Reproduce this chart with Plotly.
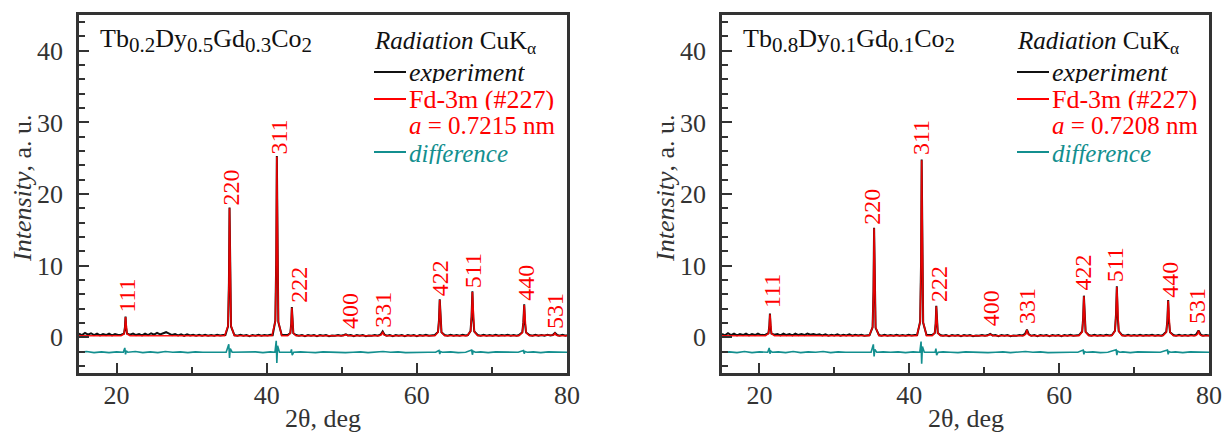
import plotly.graph_objects as go

W, H = 1224, 434

# ---------------- Left panel: Tb0.2Dy0.5Gd0.3Co2 ----------------
expL_x = [15.0, 15.4, 15.8, 16.2, 16.6, 17.0, 17.4, 17.8, 18.2, 18.6, 19.0, 19.4, 19.8, 20.2,
          20.6, 21.0, 21.12, 21.2, 21.28, 21.4, 21.8,
          22.2, 22.6, 23.0, 23.4, 23.8, 24.2, 24.6, 25.0, 25.4, 25.8, 26.2, 26.6, 27.0, 27.4, 27.8,
          28.2, 28.6, 29.0, 29.4, 29.8, 30.2, 30.6, 31.0, 31.4, 31.8, 32.2, 32.6, 33.0, 33.4, 33.8, 34.2,
          34.5, 34.85, 34.97, 35.05, 35.13, 35.25, 35.7,
          36.1, 36.5, 36.9, 37.3, 37.7, 38.1, 38.5, 38.9, 39.3, 39.7, 40.1, 40.5,
          40.8, 41.15, 41.27, 41.35, 41.43, 41.55, 42.0,
          42.4, 42.8, 43.15, 43.27, 43.35, 43.43, 43.55, 43.9,
          44.3, 44.7, 45.1, 45.5, 45.9, 46.3, 46.7, 47.1, 47.5, 47.9, 48.3, 48.7, 49.1, 49.5, 49.9,
          50.3, 50.55, 50.8, 51.2, 51.6, 52.0, 52.4, 52.8, 53.2, 53.6, 54.0, 54.4, 54.8,
          55.2, 55.45, 55.7, 56.0, 56.4, 56.8, 57.2, 57.6, 58.0, 58.4, 58.8, 59.2, 59.6, 60.0,
          60.4, 60.8, 61.2, 61.6, 62.0,
          62.4, 62.82, 62.95, 63.05, 63.15, 63.28, 63.7,
          64.1, 64.5, 64.9, 65.3, 65.7, 66.1, 66.5,
          66.8, 67.15, 67.29, 67.4, 67.51, 67.65, 68.1,
          68.5, 68.9, 69.3, 69.7, 70.1, 70.5, 70.9, 71.3, 71.7, 72.1, 72.5, 72.9, 73.3,
          73.6, 74.05, 74.19, 74.3, 74.41, 74.55, 75.0,
          75.4, 75.8, 76.2, 76.6, 77.0, 77.4, 77.8, 78.1, 78.4, 78.7, 79.0, 79.4, 79.8, 80.0]
expL_y = [0.5, 0.3, 0.6, 0.35, 0.55, 0.3, 0.5, 0.25, 0.45, 0.3, 0.5, 0.25, 0.45, 0.3,
          0.35, 0.5, 1.4, 2.9, 1.3, 0.5, 0.35,
          0.5, 0.3, 0.45, 0.25, 0.5, 0.3, 0.55, 0.35, 0.6, 0.4, 0.55, 0.7, 0.5, 0.3, 0.45,
          0.25, 0.4, 0.2, 0.4, 0.25, 0.35, 0.2, 0.35, 0.2, 0.35, 0.2, 0.3, 0.2, 0.35, 0.25, 0.3,
          0.3, 1.5, 7.6, 18.1, 7.3, 1.5, 0.3,
          0.2, 0.35, 0.2, 0.3, 0.15, 0.3, 0.2, 0.35, 0.2, 0.3, 0.25, 0.35,
          0.3, 2.3, 10.8, 25.3, 10.2, 2.1, 0.3,
          0.25, 0.3, 0.6, 1.9, 4.2, 1.7, 0.55, 0.3,
          0.2, 0.3, 0.15, 0.3, 0.2, 0.3, 0.15, 0.3, 0.2, 0.3, 0.15, 0.25, 0.2, 0.3, 0.2,
          0.3, 0.4, 0.25, 0.3, 0.15, 0.3, 0.2, 0.3, 0.15, 0.25, 0.2, 0.3, 0.2,
          0.4, 0.8, 0.35, 0.2, 0.3, 0.15, 0.3, 0.2, 0.3, 0.15, 0.3, 0.2, 0.3, 0.15,
          0.3, 0.2, 0.35, 0.2, 0.3,
          0.3, 0.75, 2.4, 5.3, 2.2, 0.7, 0.3,
          0.2, 0.35, 0.2, 0.3, 0.2, 0.35, 0.25,
          0.3, 0.85, 2.9, 6.4, 2.7, 0.8, 0.3,
          0.2, 0.35, 0.2, 0.3, 0.2, 0.35, 0.2, 0.3, 0.25, 0.35, 0.2, 0.3, 0.2,
          0.3, 0.7, 2.1, 4.6, 1.9, 0.65, 0.3,
          0.2, 0.35, 0.2, 0.3, 0.2, 0.35, 0.25, 0.3, 0.6, 0.3, 0.2, 0.35, 0.2, 0.3]

fitL_x = [15.0, 20.6, 21.0, 21.12, 21.2, 21.28, 21.4, 21.8,
          34.4, 34.85, 34.97, 35.05, 35.13, 35.25, 35.7,
          40.7, 41.15, 41.27, 41.35, 41.43, 41.55, 42.0,
          42.8, 43.15, 43.27, 43.35, 43.43, 43.55, 43.9,
          50.2, 50.55, 50.9,
          55.0, 55.3, 55.45, 55.6, 55.9,
          62.4, 62.82, 62.95, 63.05, 63.15, 63.28, 63.7,
          66.7, 67.15, 67.29, 67.4, 67.51, 67.65, 68.1,
          73.6, 74.05, 74.19, 74.3, 74.41, 74.55, 75.0,
          78.0, 78.25, 78.4, 78.55, 78.8, 80.0]
fitL_y = [0.2, 0.2, 0.45, 1.3, 2.8, 1.3, 0.45, 0.2,
          0.2, 1.6, 7.5, 18.0, 7.5, 1.6, 0.2,
          0.2, 2.2, 10.5, 25.2, 10.5, 2.2, 0.2,
          0.2, 0.55, 1.8, 4.1, 1.8, 0.55, 0.2,
          0.2, 0.35, 0.2,
          0.2, 0.35, 0.75, 0.35, 0.2,
          0.2, 0.7, 2.3, 5.2, 2.3, 0.7, 0.2,
          0.2, 0.8, 2.8, 6.3, 2.8, 0.8, 0.2,
          0.2, 0.65, 2.0, 4.5, 2.0, 0.65, 0.2,
          0.2, 0.3, 0.55, 0.3, 0.2, 0.2]

diffL_x = [15.0, 16.0, 17.0, 18.0, 19.0, 20.0, 20.9, 21.1, 21.2, 21.3, 21.5,
           22.5, 23.5, 24.5, 25.5, 26.5, 27.5, 28.5, 29.5, 30.5, 31.5, 32.5, 33.5,
           34.6, 34.95, 35.05, 35.15, 35.4, 36.5, 37.5, 38.5, 39.5, 40.5,
           41.1, 41.27, 41.35, 41.45, 41.7, 42.5, 43.2, 43.3, 43.4, 43.6,
           44.5, 45.5, 46.5, 47.5, 48.5, 49.5, 50.5, 51.5, 52.5, 53.5, 54.5, 55.5, 56.5,
           57.5, 58.5, 59.5, 60.5, 61.5, 62.5, 62.95, 63.05, 63.15, 63.4,
           64.5, 65.5, 66.5, 67.3, 67.4, 67.5, 67.8, 68.5, 69.5, 70.5, 71.5, 72.5, 73.5,
           74.2, 74.3, 74.4, 74.7, 75.5, 76.5, 77.5, 78.5, 79.5, 80.0]
diffL_y = [-2.1, -2.0, -2.15, -2.05, -2.15, -2.05, -2.1, -1.5, -2.4, -1.9, -2.1,
           -2.0, -2.15, -2.05, -2.15, -2.0, -2.1, -2.05, -2.15, -2.05, -2.1, -2.05, -2.1,
           -2.1, -1.0, -2.9, -1.6, -2.1, -2.05, -2.1, -2.05, -2.15, -2.05,
           -2.1, -0.5, -3.6, -1.2, -2.1, -2.05, -2.1, -1.7, -2.5, -2.1,
           -2.05, -2.1, -2.15, -2.05, -2.1, -2.05, -2.15, -2.1, -2.05, -2.15, -2.1, -2.0, -2.1,
           -2.05, -2.15, -2.1, -2.05, -2.1, -2.1, -1.85, -2.35, -2.0, -2.1,
           -2.05, -2.15, -2.1, -1.8, -2.45, -1.95, -2.1, -2.05, -2.15, -2.05, -2.1, -2.05, -2.1,
           -1.85, -2.3, -2.0, -2.1, -2.05, -2.15, -2.05, -2.1, -2.05, -2.1]

# ---------------- Right panel: Tb0.8Dy0.1Gd0.1Co2 ----------------
expR_x = [15.0, 15.4, 15.8, 16.2, 16.6, 17.0, 17.4, 17.8, 18.2, 18.6, 19.0, 19.4, 19.8, 20.2,
          20.8, 21.2, 21.32, 21.4, 21.48, 21.6, 22.0,
          22.4, 22.8, 23.2, 23.6, 24.0, 24.4, 24.8, 25.2, 25.6, 26.0, 26.4, 26.8, 27.2, 27.6, 28.0,
          28.4, 28.8, 29.2, 29.6, 30.0, 30.4, 30.8, 31.2, 31.6, 32.0, 32.4, 32.8, 33.2, 33.6, 34.0, 34.4,
          34.7, 35.1, 35.22, 35.3, 35.38, 35.5, 35.95,
          36.3, 36.7, 37.1, 37.5, 37.9, 38.3, 38.7, 39.1, 39.5, 39.9, 40.3, 40.7,
          41.05, 41.45, 41.57, 41.65, 41.73, 41.85, 42.3,
          42.7, 43.05, 43.4, 43.52, 43.6, 43.68, 43.8, 44.15,
          44.5, 44.9, 45.3, 45.7, 46.1, 46.5, 46.9, 47.3, 47.7, 48.1, 48.5, 48.9, 49.3, 49.7, 50.1,
          50.5, 50.8, 51.1, 51.5, 51.9, 52.3, 52.7, 53.1, 53.5, 53.9, 54.3, 54.7, 55.1,
          55.45, 55.7, 55.95, 56.3, 56.7, 57.1, 57.5, 57.9, 58.3, 58.7, 59.1, 59.5, 59.9, 60.3,
          60.7, 61.1, 61.5, 61.9, 62.3,
          62.65, 63.07, 63.2, 63.3, 63.4, 63.53, 63.95,
          64.3, 64.7, 65.1, 65.5, 65.9, 66.3, 66.7,
          67.05, 67.45, 67.59, 67.7, 67.81, 67.95, 68.4,
          68.8, 69.2, 69.6, 70.0, 70.4, 70.8, 71.2, 71.6, 72.0, 72.4, 72.8, 73.2, 73.6,
          73.85, 74.3, 74.44, 74.55, 74.66, 74.8, 75.25,
          75.6, 76.0, 76.4, 76.8, 77.2, 77.6, 78.0, 78.3, 78.6, 78.9, 79.2, 79.6, 80.0]
expR_y = [0.45, 0.25, 0.55, 0.3, 0.5, 0.25, 0.45, 0.3, 0.5, 0.25, 0.45, 0.3, 0.5, 0.3,
          0.35, 0.55, 1.6, 3.3, 1.5, 0.5, 0.35,
          0.45, 0.25, 0.5, 0.3, 0.45, 0.25, 0.5, 0.3, 0.45, 0.3, 0.5, 0.35, 0.45, 0.3, 0.4,
          0.25, 0.4, 0.2, 0.35, 0.25, 0.4, 0.2, 0.35, 0.25, 0.4, 0.2, 0.35, 0.25, 0.35, 0.2, 0.3,
          0.3, 1.4, 6.5, 15.3, 6.2, 1.3, 0.3,
          0.2, 0.35, 0.2, 0.3, 0.2, 0.35, 0.2, 0.3, 0.2, 0.35, 0.25, 0.3,
          0.3, 2.2, 10.5, 24.8, 10.0, 2.0, 0.3,
          0.25, 0.3, 0.6, 1.9, 4.4, 1.8, 0.6, 0.3,
          0.2, 0.3, 0.15, 0.3, 0.2, 0.3, 0.15, 0.3, 0.2, 0.3, 0.15, 0.25, 0.2, 0.3, 0.2,
          0.3, 0.45, 0.25, 0.3, 0.15, 0.3, 0.2, 0.3, 0.15, 0.25, 0.2, 0.3, 0.25,
          0.45, 1.05, 0.4, 0.2, 0.3, 0.15, 0.3, 0.2, 0.3, 0.15, 0.3, 0.2, 0.3, 0.15,
          0.3, 0.2, 0.35, 0.2, 0.3,
          0.3, 0.8, 2.6, 5.8, 2.4, 0.75, 0.3,
          0.2, 0.35, 0.2, 0.3, 0.2, 0.35, 0.25,
          0.3, 0.9, 3.2, 7.1, 3.0, 0.85, 0.3,
          0.2, 0.35, 0.2, 0.3, 0.2, 0.35, 0.2, 0.3, 0.25, 0.35, 0.2, 0.3, 0.2,
          0.3, 0.75, 2.3, 5.2, 2.1, 0.7, 0.3,
          0.2, 0.35, 0.2, 0.3, 0.2, 0.35, 0.25, 0.4, 0.95, 0.35, 0.2, 0.3, 0.25]

fitR_x = [15.0, 20.8, 21.2, 21.32, 21.4, 21.48, 21.6, 22.0,
          34.65, 35.1, 35.22, 35.3, 35.38, 35.5, 35.95,
          41.0, 41.45, 41.57, 41.65, 41.73, 41.85, 42.3,
          43.05, 43.4, 43.52, 43.6, 43.68, 43.8, 44.15,
          50.45, 50.8, 51.15,
          55.25, 55.55, 55.7, 55.85, 56.15,
          62.65, 63.07, 63.2, 63.3, 63.4, 63.53, 63.95,
          67.0, 67.45, 67.59, 67.7, 67.81, 67.95, 68.4,
          73.85, 74.3, 74.44, 74.55, 74.66, 74.8, 75.25,
          78.2, 78.45, 78.6, 78.75, 79.0, 80.0]
fitR_y = [0.2, 0.2, 0.5, 1.5, 3.2, 1.5, 0.5, 0.2,
          0.2, 1.4, 6.3, 15.2, 6.3, 1.4, 0.2,
          0.2, 2.1, 10.3, 24.7, 10.3, 2.1, 0.2,
          0.2, 0.6, 1.9, 4.3, 1.9, 0.6, 0.2,
          0.2, 0.4, 0.2,
          0.2, 0.45, 1.0, 0.45, 0.2,
          0.2, 0.75, 2.5, 5.7, 2.5, 0.75, 0.2,
          0.2, 0.85, 3.1, 7.0, 3.1, 0.85, 0.2,
          0.2, 0.7, 2.2, 5.1, 2.2, 0.7, 0.2,
          0.2, 0.4, 0.9, 0.4, 0.2, 0.2]

diffR_x = [15.0, 16.0, 17.0, 18.0, 19.0, 20.0, 21.1, 21.3, 21.4, 21.5, 21.7,
           22.5, 23.5, 24.5, 25.5, 26.5, 27.5, 28.5, 29.5, 30.5, 31.5, 32.5, 33.5,
           34.9, 35.2, 35.3, 35.4, 35.65, 36.5, 37.5, 38.5, 39.5, 40.5,
           41.4, 41.57, 41.65, 41.75, 42.0, 42.7, 43.45, 43.55, 43.65, 43.85,
           44.5, 45.5, 46.5, 47.5, 48.5, 49.5, 50.5, 51.5, 52.5, 53.5, 54.5, 55.5, 56.5,
           57.5, 58.5, 59.5, 60.5, 61.5, 62.5, 63.2, 63.3, 63.4, 63.6,
           64.5, 65.5, 66.5, 67.6, 67.7, 67.8, 68.1, 68.5, 69.5, 70.5, 71.5, 72.5, 73.5,
           74.45, 74.55, 74.65, 74.9, 75.5, 76.5, 77.5, 78.5, 79.5, 80.0]
diffR_y = [-2.1, -2.05, -2.15, -2.0, -2.15, -2.05, -2.1, -1.5, -2.3, -1.95, -2.1,
           -2.05, -2.15, -2.0, -2.15, -2.05, -2.1, -2.0, -2.15, -2.05, -2.1, -2.05, -2.1,
           -2.1, -1.0, -2.7, -1.7, -2.1, -2.05, -2.1, -2.05, -2.15, -2.05,
           -2.1, -0.6, -3.7, -1.3, -2.1, -2.05, -2.1, -1.6, -2.5, -2.1,
           -2.05, -2.1, -2.15, -2.05, -2.1, -2.05, -2.15, -2.1, -2.05, -2.15, -2.1, -2.0, -2.1,
           -2.05, -2.15, -2.1, -2.05, -2.1, -2.1, -1.8, -2.4, -2.0, -2.1,
           -2.05, -2.15, -2.1, -1.75, -2.5, -1.95, -2.1, -2.05, -2.15, -2.05, -2.1, -2.05, -2.1,
           -1.8, -2.4, -2.0, -2.1, -2.05, -2.15, -2.05, -2.1, -2.05, -2.1]

# ---------------- hkl labels ----------------
hkl = ["111", "220", "311", "222", "400", "331", "422", "511", "440", "531"]
lblL_x = [21.4, 35.3, 41.6, 44.2, 51.1, 55.5, 63.1, 67.4, 74.5, 78.4]
lblL_y = [3.3, 18.3, 25.4, 4.7, 1.0, 1.2, 5.6, 6.7, 4.9, 1.0]
lblR_x = [21.6, 35.1, 41.5, 43.9, 50.9, 55.7, 63.25, 67.5, 74.7, 78.4]
lblR_y = [4.0, 15.5, 25.3, 4.7, 1.4, 1.7, 6.3, 7.5, 5.4, 1.7]

compound = [[("Tb", "0.2"), ("Dy", "0.5"), ("Gd", "0.3"), ("Co", "2")],
            [("Tb", "0.8"), ("Dy", "0.1"), ("Gd", "0.1"), ("Co", "2")]]
lattice = ["0.7215", "0.7208"]

# ---------------- styling ----------------
FONT = "'Liberation Serif', 'Times New Roman', Times, serif"
AX = "#333333"
BLACK = "#111111"
RED = "#ff0000"
TEAL = "#138f8f"


def sub(s):
    return '<sub><span style="font-size:21px">' + s + '</span></sub>'


fig = go.Figure()


def px2x(p):
    return p / W


def px2y(p):
    return 1 - p / H


xdom = [[79 / W, 567 / W], [722 / W, 1209 / W]]
ydom = [61 / H, 1 - 15 / H]

panels = [
    (expL_x, expL_y, fitL_x, fitL_y, diffL_x, diffL_y, lblL_x, lblL_y),
    (expR_x, expR_y, fitR_x, fitR_y, diffR_x, diffR_y, lblR_x, lblR_y),
]

annotations = []
shapes = []

for i, (ex, ey, fx, fy, dx, dy, lx, ly) in enumerate(panels):
    xa = "x" if i == 0 else "x2"
    ya = "y" if i == 0 else "y2"
    fig.add_trace(go.Scatter(x=ex, y=ey, mode="lines", line=dict(color=BLACK, width=2),
                             xaxis=xa, yaxis=ya, showlegend=False, hoverinfo="skip"))
    fig.add_trace(go.Scatter(x=fx, y=fy, mode="lines", line=dict(color=RED, width=1.6),
                             opacity=0.9, xaxis=xa, yaxis=ya, showlegend=False, hoverinfo="skip"))
    fig.add_trace(go.Scatter(x=dx, y=dy, mode="lines", line=dict(color=TEAL, width=1.6),
                             xaxis=xa, yaxis=ya, showlegend=False, hoverinfo="skip"))
    for t, xv, yv in zip(hkl, lx, ly):
        annotations.append(dict(x=xv, y=yv, xref=xa, yref=ya, text=t, showarrow=False,
                                textangle=-90, xanchor="center", yanchor="bottom",
                                font=dict(family=FONT, size=24, color=RED), borderpad=0))

    off = 0 if i == 0 else 643
    # compound title
    title_txt = "".join(el + sub(n) for el, n in compound[i])
    annotations.append(dict(x=px2x(98 + off), y=px2y(41), xref="paper", yref="paper",
                            text=title_txt, showarrow=False, xanchor="left", yanchor="middle",
                            font=dict(family=FONT, size=26, color=BLACK)))
    # legend block
    annotations.append(dict(x=px2x(372 + off), y=px2y(42), xref="paper", yref="paper",
                            text="<i>Radiation</i> CuK<sub>α</sub>", showarrow=False,
                            xanchor="left", yanchor="middle",
                            font=dict(family=FONT, size=25, color=BLACK)))
    leg = [(72, BLACK, "experiment", "italic", 26),
           (99, RED, "Fd-3m (#227)", "normal", 26),
           (125, RED, "<i>a</i> = " + lattice[i] + " nm", "normal", 25),
           (153, TEAL, "difference", "italic", 25)]
    for yy, col, txt, sty, fs in leg:
        annotations.append(dict(x=px2x(407 + off), y=px2y(yy), xref="paper", yref="paper",
                                text=txt, showarrow=False, xanchor="left", yanchor="middle",
                                height=22, valign="middle",
                                font=dict(family=FONT, size=fs, color=col, style=sty)))
    for yy, col in [(72, BLACK), (99, RED), (152, TEAL)]:
        shapes.append(dict(type="line", xref="paper", yref="paper",
                           x0=px2x(374 + off), x1=px2x(406 + off), y0=px2y(yy), y1=px2y(yy),
                           line=dict(color=col, width=2)))
    # axis titles
    annotations.append(dict(x=px2x(22 + off), y=px2y(188), xref="paper", yref="paper",
                            text="<i>Intensity</i>, a. u.", showarrow=False, textangle=-90,
                            xanchor="center", yanchor="middle",
                            font=dict(family=FONT, size=26, color=AX)))
    annotations.append(dict(x=px2x(323 + off), y=px2y(418), xref="paper", yref="paper",
                            text="2θ, deg", showarrow=False, xanchor="center", yanchor="middle",
                            font=dict(family=FONT, size=26, color=AX)))

xaxis_common = dict(range=[15, 80], tickvals=[20, 40, 60, 80], ticks="inside", ticklen=10,
                    tickwidth=2, tickcolor=AX, showline=True, linewidth=2.5, linecolor=AX,
                    mirror=True, showgrid=False, zeroline=False,
                    tickfont=dict(family=FONT, size=26, color=AX),
                    minor=dict(tickvals=[30, 50, 70], ticks="inside", ticklen=6, tickwidth=2,
                               tickcolor=AX, showgrid=False),
                    ticklabelstandoff=-3)
yaxis_common = dict(range=[-5, 45], tickvals=[0, 10, 20, 30, 40], ticks="inside", ticklen=10,
                    tickwidth=2, tickcolor=AX, showline=True, linewidth=2.5, linecolor=AX,
                    mirror=True, showgrid=False, zeroline=False,
                    tickfont=dict(family=FONT, size=26, color=AX),
                    minor=dict(tickvals=[-4, -2, 2, 4, 6, 8, 12, 14, 16, 18, 22, 24, 26, 28,
                                         32, 34, 36, 38, 42, 44],
                               ticks="inside", ticklen=6, tickwidth=2, tickcolor=AX,
                               showgrid=False),
                    ticklabelstandoff=8)

fig.update_layout(
    width=W, height=H,
    margin=dict(l=0, r=0, t=0, b=0, autoexpand=False),
    paper_bgcolor="white", plot_bgcolor="white",
    xaxis=dict(domain=xdom[0], anchor="y", **xaxis_common),
    yaxis=dict(domain=ydom, anchor="x", **yaxis_common),
    xaxis2=dict(domain=xdom[1], anchor="y2", **xaxis_common),
    yaxis2=dict(domain=ydom, anchor="x2", **yaxis_common),
    annotations=annotations,
    shapes=shapes,
    showlegend=False,
)

fig.write_html("out.html")
